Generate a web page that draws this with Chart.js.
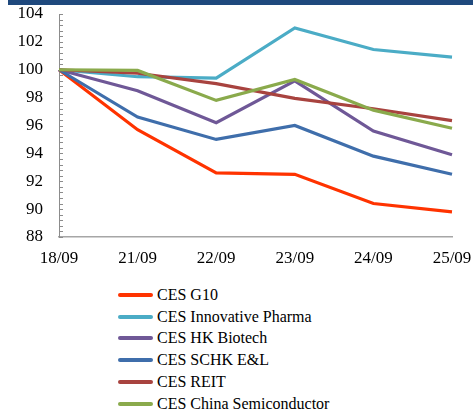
<!DOCTYPE html>
<html>
<head>
<meta charset="utf-8">
<script src="https://cdn.jsdelivr.net/npm/chart.js@4.4.1/dist/chart.umd.min.js"></script>
<style>
	body {
		margin: 0;
		background: #fff;
		width: 473px;
		height: 414px;
		overflow: hidden;
		position: relative;
		font-family: "Times New Roman", Times, Tinos, "Liberation Serif", "DejaVu Serif", serif;
	}
	#topBar {
		position: absolute;
		left: 8px;
		top: 0;
		width: 465px;
		height: 5px;
		background: #1f497d;
	}
	#chartBox {
		position: absolute;
		left: 0;
		top: 0;
		width: 473px;
		height: 280px;
	}
	#legend {
		position: absolute;
		left: 118px;
		top: 284px;
	}
	.legend-item {
		height: 21.8px;
		display: flex;
		align-items: center;
		font-size: 16px;
		color: #000;
		white-space: nowrap;
	}
	.legend-line {
		width: 35px;
		height: 4px;
		margin-right: 4px;
		border-radius: 2px;
	}
</style>
</head>
<body>
<div id="topBar"></div>
<div id="chartBox"><canvas id="perfChart" width="473" height="280"></canvas></div>
<div id="legend"></div>

<script>
const dates = ['18/09', '21/09', '22/09', '23/09', '24/09', '25/09'];

const g10 = [100, 95.7, 92.6, 92.5, 90.4, 89.8];
const innovativePharma = [100, 99.5, 99.4, 103.0, 101.45, 100.9];
const hkBiotech = [100, 98.5, 96.2, 99.2, 95.6, 93.9];
const schkEL = [100, 96.6, 95.0, 96.0, 93.8, 92.5];
const reit = [100, 99.75, 99.0, 97.95, 97.2, 96.35];
const chinaSemi = [100, 99.95, 97.8, 99.3, 97.1, 95.8];

const seriesNames = [
	'CES G10',
	'CES Innovative Pharma',
	'CES HK Biotech',
	'CES SCHK E&L',
	'CES REIT',
	'CES China Semiconductor',
];
const seriesValues = [g10, innovativePharma, hkBiotech, schkEL, reit, chinaSemi];
const seriesColors = ['#ff3300', '#4bacc6', '#6f5897', '#3f6eab', '#a8433f', '#8aaa4c'];

const yMin = 88;
const yMax = 104;
const yStep = 2;
const yMinorStep = 0.4;

const serifFamily = '"Times New Roman", Times, Tinos, "Liberation Serif", "DejaVu Serif", serif';
const axisFont = { family: serifFamily, size: 17, lineHeight: 1 };

// small tick marks pointing into the plot, like the original
const innerTicks = {
	id: 'innerTicks',
	beforeDatasetsDraw(chart) {
		const y = chart.scales.y;
		const ctx = chart.ctx;
		const x0 = chart.chartArea.left;
		ctx.save();
		ctx.strokeStyle = '#8c8c8c';
		ctx.lineWidth = 1;
		const n = Math.round((yMax - yMin) / yMinorStep);
		for (let i = 0; i <= n; i++) {
			const py = Math.round(y.getPixelForValue(yMin + i * yMinorStep)) + 0.5;
			ctx.beginPath();
			ctx.moveTo(x0, py);
			ctx.lineTo(x0 + 4, py);
			ctx.stroke();
		}
		ctx.restore();
	},
};

const chart = new Chart(document.getElementById('perfChart'), {
	type: 'line',
	data: {
		labels: dates,
		datasets: seriesValues.map((data, i) => ({
			label: seriesNames[i],
			data,
			borderColor: seriesColors[i],
			backgroundColor: seriesColors[i],
			borderWidth: 3.2,
			pointRadius: 0,
			tension: 0,
			order: seriesValues.length - i,
		})),
	},
	options: {
		responsive: false,
		animation: false,
		layout: { padding: { left: 0, right: 21, top: 14, bottom: 0 } },
		plugins: {
			legend: { display: false },
			tooltip: { enabled: false },
		},
		scales: {
			x: {
				offset: false,
				grid: { display: true, drawOnChartArea: false, drawTicks: false },
				border: { display: true, color: '#a6a6a6', width: 1.5 },
				ticks: { color: '#000', font: axisFont, padding: 13, maxRotation: 0, autoSkip: false },
				afterFit: (s) => {
					s.height = 43;
					s.paddingLeft = 0;
					s.paddingRight = 0;
				},
			},
			y: {
				min: yMin,
				max: yMax,
				grid: { display: true, drawOnChartArea: false, drawTicks: false },
				border: { display: true, color: '#8c8c8c', width: 1 },
				ticks: { stepSize: yStep, color: '#000', font: axisFont, padding: 16 },
				afterFit: (s) => {
					s.width = 59;
					s.paddingTop = 0;
					s.paddingBottom = 0;
				},
			},
		},
	},
	plugins: [innerTicks],
});

// legend as a vertical list under the plot
const legendBox = document.getElementById('legend');
chart.data.datasets.forEach((ds) => {
	const row = document.createElement('div');
	row.className = 'legend-item';
	const line = document.createElement('span');
	line.className = 'legend-line';
	line.style.background = ds.borderColor;
	const text = document.createElement('span');
	text.textContent = ds.label;
	row.appendChild(line);
	row.appendChild(text);
	legendBox.appendChild(row);
});
</script>
</body>
</html>
